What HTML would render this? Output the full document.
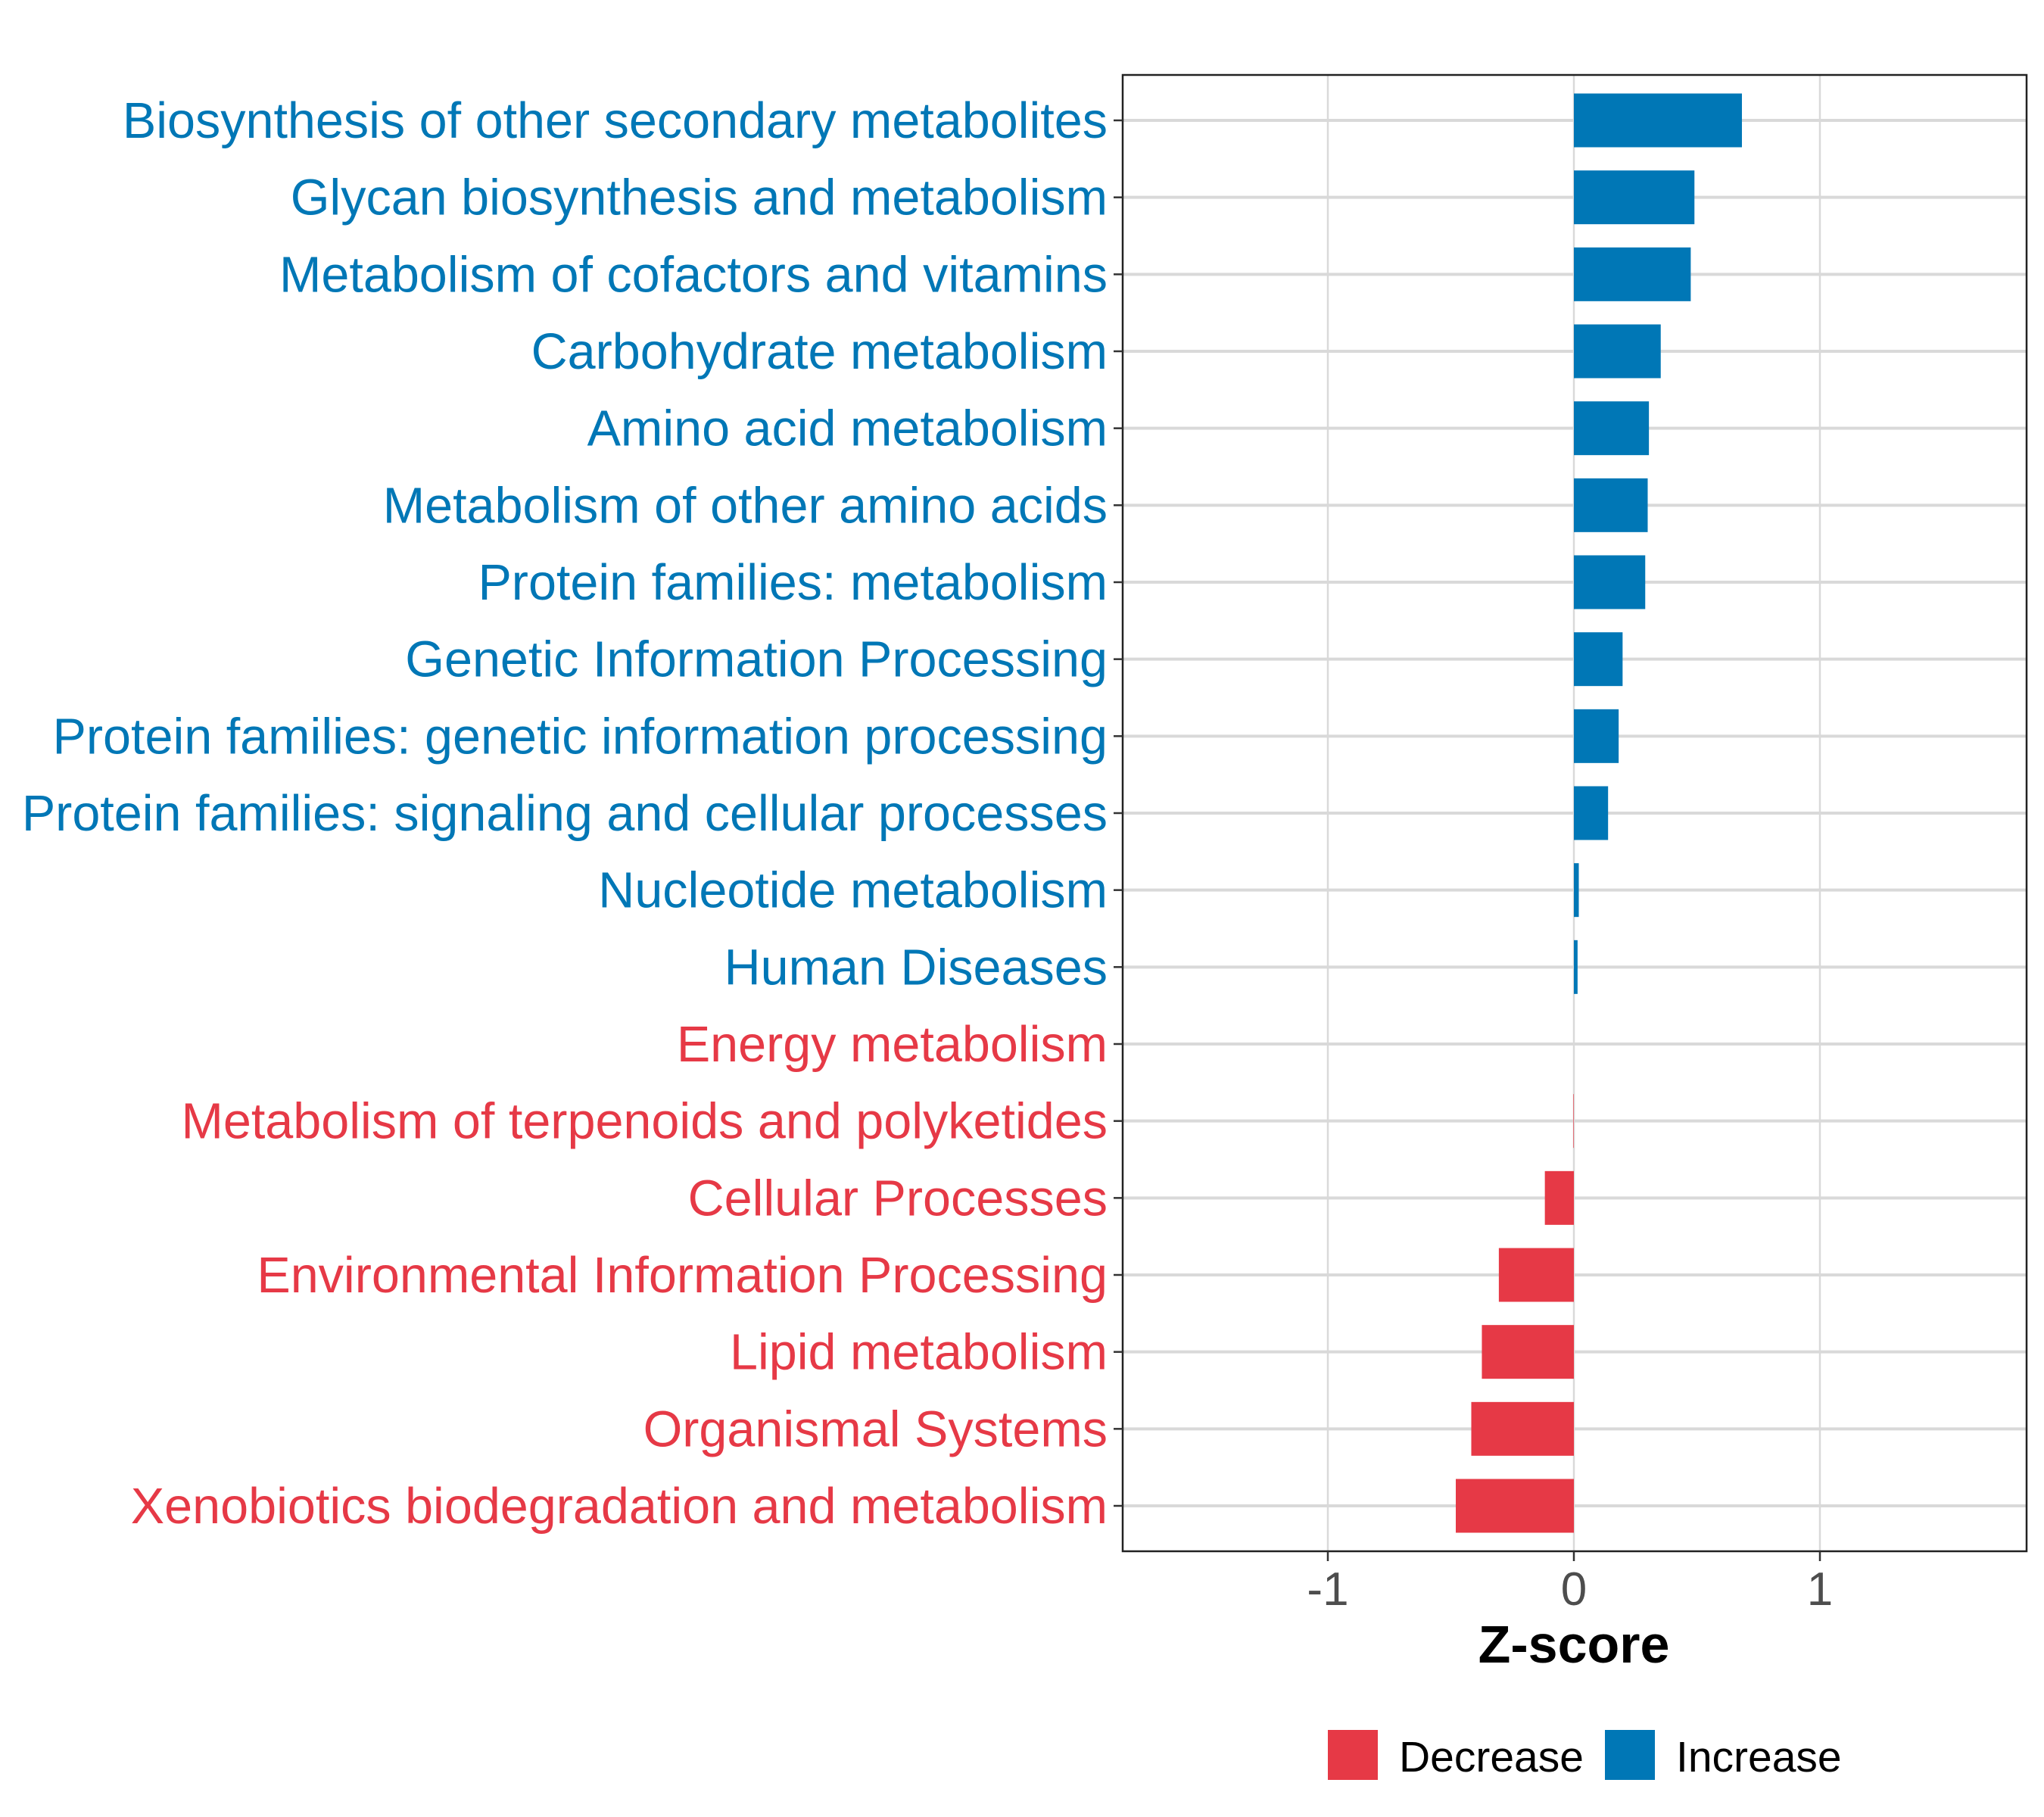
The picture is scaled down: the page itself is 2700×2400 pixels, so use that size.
<!DOCTYPE html>
<html><head><meta charset="utf-8"><style>
body{margin:0;background:#fff}
svg{display:block;font-family:"Liberation Sans",Arial,sans-serif}
</style></head><body>
<svg id="chart" width="2700" height="2400" viewBox="0 0 2700 2400">
<rect x="0" y="0" width="2700" height="2400" fill="#fff"/>
<g id="grid"></g>
<g id="bars"></g>
<rect x="1483" y="99" width="1194" height="1950" fill="none" stroke="#222" stroke-width="2.5"/>
<g id="ylabels"></g>
<g id="xticks"></g>
<text x="2079" y="2196" text-anchor="middle" font-size="70" font-weight="bold" fill="#000">Z-score</text>
<g>
<rect x="1754" y="2285" width="66" height="66" fill="#E63946"/>
<text x="1848" y="2340" font-size="57" fill="#000">Decrease</text>
<rect x="2120" y="2285" width="66" height="66" fill="#0077B6"/>
<text x="2214" y="2340" font-size="57" fill="#000">Increase</text>
</g>
</svg>
<script>
const categories=["Biosynthesis of other secondary metabolites","Glycan biosynthesis and metabolism","Metabolism of cofactors and vitamins","Carbohydrate metabolism","Amino acid metabolism","Metabolism of other amino acids","Protein families: metabolism","Genetic Information Processing","Protein families: genetic information processing","Protein families: signaling and cellular processes","Nucleotide metabolism","Human Diseases","Energy metabolism","Metabolism of terpenoids and polyketides","Cellular Processes","Environmental Information Processing","Lipid metabolism","Organismal Systems","Xenobiotics biodegradation and metabolism"];
const zscores=[0.683,0.49,0.475,0.353,0.305,0.30,0.29,0.198,0.182,0.139,0.02,0.015,0,-0.002,-0.118,-0.305,-0.374,-0.417,-0.48];
const xTicks=[-1,0,1];
const xTickLabels=["-1","0","1"];
const BLUE="#0077B6",RED="#E63946";
const NS="http://www.w3.org/2000/svg";
const x0=2079,unit=325;
function xs(v){return x0+v*unit;}
const yTop=159,yStep=(1989-159)/18;
function ys(i){return yTop+i*yStep;}
function mk(tag,attrs,parent){const e=document.createElementNS(NS,tag);for(const k in attrs)e.setAttribute(k,attrs[k]);parent.appendChild(e);return e;}
const grid=document.getElementById('grid'),bars=document.getElementById('bars'),yl=document.getElementById('ylabels'),xt=document.getElementById('xticks');
xTicks.forEach((t,i)=>{
  const l=mk('line',{x1:xs(t),x2:xs(t),y1:99,y2:2049,stroke:'#D9D9D9','stroke-width':2.5},grid);
  
  
  const tk=mk('line',{x1:xs(t),x2:xs(t),y1:2049,y2:2062,stroke:'#333','stroke-width':2.5},xt);
  
  
  const tl=mk('text',{x:xs(t),y:2120,'text-anchor':'middle','font-size':62,fill:'#4D4D4D'},xt);
  tl.textContent=xTickLabels[i];
  
  
});
categories.forEach((c,i)=>{
  const y=ys(i);
  const g=mk('line',{x1:1483,x2:2677,y1:y,y2:y,stroke:'#D9D9D9','stroke-width':4},grid);
  
  
  const v=zscores[i];
  const col=v>0?BLUE:RED;
  const b=mk('rect',{x:Math.min(xs(0),xs(v)),y:y-35.5,width:Math.abs(xs(v)-xs(0)),height:71,fill:col},bars);
  
  
  const tk=mk('line',{x1:1471,x2:1483,y1:y,y2:y,stroke:'#333','stroke-width':2.5},yl);
  
  
  const t=mk('text',{x:1463,y:y+23,'text-anchor':'end','font-size':66.5,fill:col},yl);
  t.textContent=c;
  
  
});
</script>
</body></html>
